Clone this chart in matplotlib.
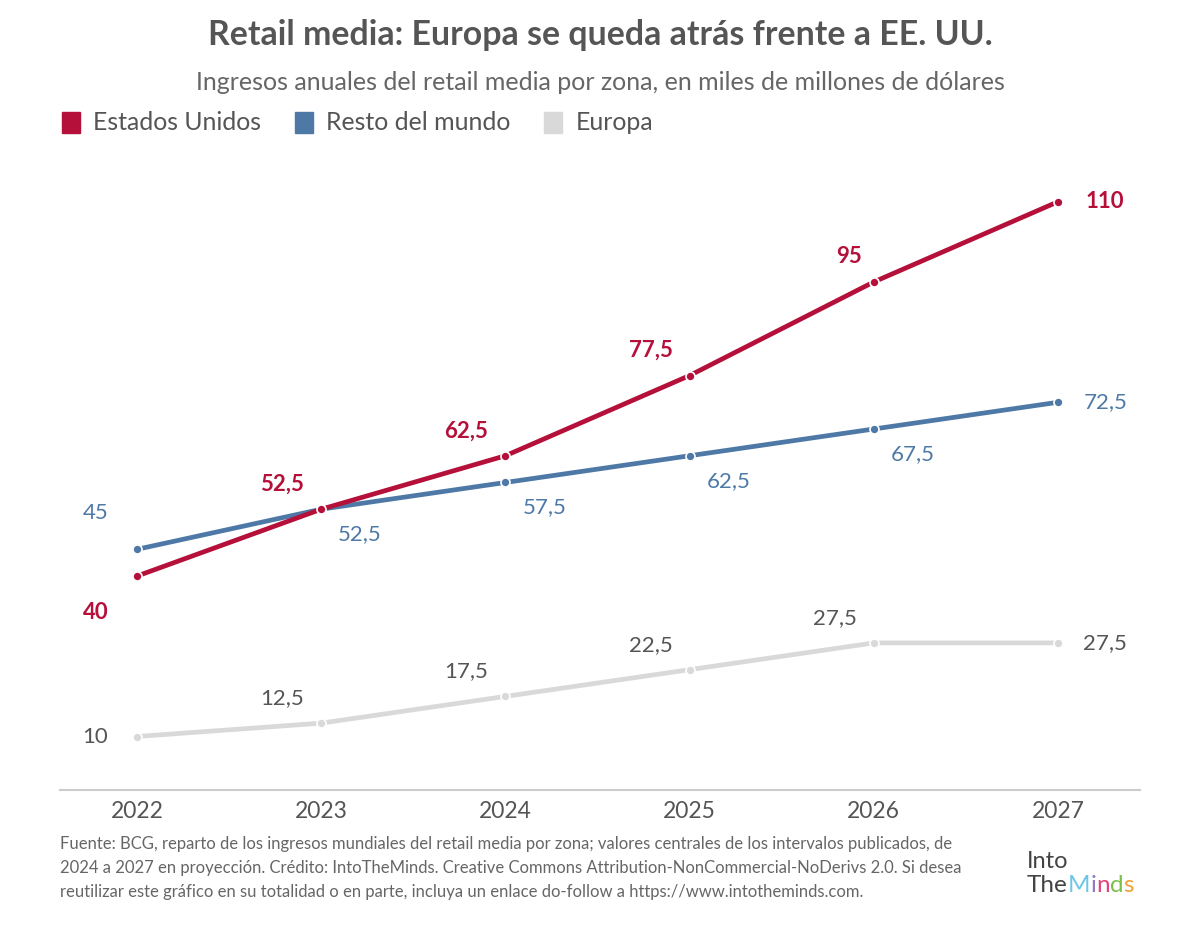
import numpy as np
import matplotlib.pyplot as plt

years = [2022, 2023, 2024, 2025, 2026, 2027]
usa = [40, 52.5, 62.5, 77.5, 95, 110]
resto = [45, 52.5, 57.5, 62.5, 67.5, 72.5]
europa = [10, 12.5, 17.5, 22.5, 27.5, 27.5]

red = '#b5103a'
blue = '#4e79a7'
grey = '#d9d9d9'
txt = '#555555'

plt.rcParams['font.family'] = ['Lato', 'DejaVu Sans']

fig = plt.figure(figsize=(12, 9.27), dpi=100)
ax = fig.add_axes([0.05, 0.1478, 0.9, 0.6796])

def fmt(v):
    return ('%g' % v).replace('.', ',')

ax.plot(years, europa, color=grey, lw=3.4, marker='o', ms=6.5, mec='white', mew=1.2, zorder=2)
ax.plot(years, resto, color=blue, lw=3.4, marker='o', ms=6.5, mec='white', mew=1.2, zorder=3)
ax.plot(years, usa, color=red, lw=3.4, marker='o', ms=6.5, mec='white', mew=1.2, zorder=4)

# label offsets in points (dx, dy)
us_off = [(-30, -26), (-28, 18), (-28, 18), (-28, 18), (-18, 18), (34, 0)]
rw_off = [(-30, 26), (28, -18), (28, -18), (28, -18), (28, -18), (34, 0)]
eu_off = [(-30, 0), (-28, 18), (-28, 18), (-28, 18), (-28, 18), (34, 0)]

for series, offs, col, w in [(usa, us_off, red, 'bold'), (resto, rw_off, blue, 'normal'), (europa, eu_off, txt, 'normal')]:
    for x, y, (dx, dy) in zip(years, series, offs):
        ax.annotate(fmt(y), (x, y), xytext=(dx, dy), textcoords='offset points',
                    ha='center', va='center', fontsize=16, color=col, fontweight=w)

ax.set_xlim(2021.582, 2027.445)
ax.set_ylim(0, 117.8)
ax.set_yticks([])
ax.set_xticks(years)
ax.set_xticklabels([str(y) for y in years], fontsize=16.5, color=txt)
ax.tick_params(axis='x', length=0, pad=8)
for s in ['top', 'left', 'right']:
    ax.spines[s].set_visible(False)
ax.spines['bottom'].set_color('#cccccc')
ax.spines['bottom'].set_linewidth(1.5)

fig.text(0.5, 1 - 35 / 927, 'Retail media: Europa se queda atrás frente a EE. UU.', ha='center', va='center',
         fontsize=24.4, fontweight='bold', color=txt)
fig.text(0.5, 1 - 82 / 927, 'Ingresos anuales del retail media por zona, en miles de millones de dólares',
         ha='center', va='center', fontsize=18, color='#666666')

# legend
lx = 62 / 1200
for label, col in [('Estados Unidos', red), ('Resto del mundo', blue), ('Europa', grey)]:
    fig.patches.append(plt.Rectangle((lx, 1 - 133 / 927), 18 / 1200, 21 / 927, transform=fig.transFigure,
                                     color=col, figure=fig))
    t = fig.text(lx + 31 / 1200, 1 - 122 / 927, label, ha='left', va='center', fontsize=17.9, color=txt)
    fig.canvas.draw()
    bb = t.get_window_extent()
    lx = bb.x1 / 1200 + 34 / 1200

foot = ('Fuente: BCG, reparto de los ingresos mundiales del retail media por zona; valores centrales de los intervalos publicados, de\n'
        '2024 a 2027 en proyección. Crédito: IntoTheMinds. Creative Commons Attribution-NonCommercial-NoDerivs 2.0. Si desea\n'
        'reutilizar este gráfico en su totalidad o en parte, incluya un enlace do-follow a https://www.intotheminds.com.')
fig.text(60 / 1200, 1 - 836 / 927, foot, ha='left', va='top', fontsize=12, color='#666666', linespacing=1.62)

# logo text
fig.text(1027 / 1200, 1 - 861 / 927, 'Into', ha='left', va='center', fontsize=17, color='#444444')
lx = 1027 / 1200
for ch, col in [('The', '#444444'), ('M', '#6ec6e8'), ('i', '#8e7cc3'), ('n', '#e0457b'), ('d', '#7bbf4a'), ('s', '#f0a030')]:
    t = fig.text(lx, 1 - 885 / 927, ch, ha='left', va='center', fontsize=17.5, color=col)
    fig.canvas.draw()
    lx = t.get_window_extent().x1 / 1200

fig.savefig('out.png', dpi=100, facecolor='white')
